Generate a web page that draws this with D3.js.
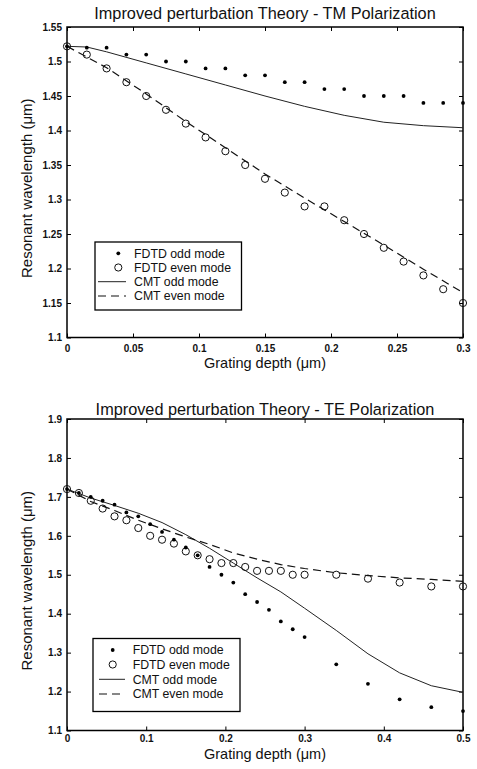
<!DOCTYPE html>
<html><head><meta charset="utf-8">
<script src="https://cdn.jsdelivr.net/npm/d3@7"></script>
<style>
body{margin:0;background:#fff}
text{font-family:"Liberation Sans",Arial,Helvetica,sans-serif;fill:#111}
</style>
</head><body>
<svg id="c" width="477" height="769"></svg>
<script>
// ---------- TM polarization (top) ----------
const tmTitle = "Improved perturbation Theory - TM Polarization";
const tmFdtdX = [0,0.015,0.03,0.045,0.06,0.075,0.09,0.105,0.12,0.135,0.15,0.165,0.18,0.195,0.21,0.225,0.24,0.255,0.27,0.285,0.3];
const tmFdtdOdd = [1.522,1.52,1.52,1.51,1.51,1.50,1.50,1.49,1.49,1.48,1.48,1.47,1.47,1.46,1.46,1.45,1.45,1.45,1.44,1.44,1.44];
const tmFdtdEven = [1.522,1.51,1.49,1.47,1.45,1.43,1.41,1.39,1.37,1.35,1.33,1.31,1.29,1.29,1.27,1.25,1.23,1.21,1.19,1.17,1.15];
const tmCmtOddX = [0,0.015,0.03,0.06,0.09,0.12,0.15,0.18,0.21,0.24,0.27,0.3];
const tmCmtOdd = [1.522,1.521,1.514,1.498,1.482,1.466,1.450,1.435,1.422,1.412,1.407,1.404];
const tmCmtEvenX = [0,0.03,0.06,0.09,0.12,0.15,0.18,0.21,0.24,0.27,0.3];
const tmCmtEven = [1.522,1.491,1.453,1.413,1.375,1.337,1.302,1.268,1.234,1.199,1.165];
const tmXTicks = [0,0.05,0.1,0.15,0.2,0.25,0.3];
const tmYTicks = [1.1,1.15,1.2,1.25,1.3,1.35,1.4,1.45,1.5,1.55];

// ---------- TE polarization (bottom) ----------
const teTitle = "Improved perturbation Theory - TE Polarization";
const teFdtdX = [0,0.015,0.03,0.045,0.06,0.075,0.09,0.105,0.12,0.135,0.15,0.165,0.18,0.195,0.21,0.225,0.24,0.255,0.27,0.285,0.3,0.34,0.38,0.42,0.46,0.5];
const teFdtdOdd = [1.72,1.71,1.70,1.69,1.68,1.66,1.65,1.63,1.61,1.59,1.57,1.55,1.52,1.50,1.48,1.45,1.43,1.41,1.38,1.36,1.34,1.27,1.22,1.18,1.16,1.15];
const teFdtdEven = [1.72,1.71,1.69,1.67,1.65,1.64,1.62,1.60,1.59,1.58,1.56,1.55,1.54,1.53,1.53,1.52,1.51,1.51,1.51,1.50,1.50,1.50,1.49,1.48,1.47,1.47];
const teCmtX = [0,0.03,0.06,0.09,0.12,0.15,0.18,0.21,0.24,0.27,0.3,0.34,0.38,0.42,0.46,0.5];
const teCmtOdd = [1.72,1.697,1.678,1.658,1.634,1.603,1.568,1.530,1.492,1.456,1.414,1.357,1.297,1.248,1.215,1.198];
const teCmtEven = [1.72,1.688,1.665,1.640,1.618,1.597,1.578,1.556,1.540,1.526,1.516,1.505,1.498,1.492,1.488,1.483];
const teXTicks = [0,0.1,0.2,0.3,0.4,0.5];
const teYTicks = [1.1,1.2,1.3,1.4,1.5,1.6,1.7,1.8,1.9];

const legendLabels = ["FDTD odd mode","FDTD even mode","CMT odd mode","CMT even mode"];
const xLabel = "Grating depth (\u03bcm)";
const yLabel = "Resonant wavelength (\u03bcm)";

const svg = d3.select("#c");
const fmt = d => String(+d.toFixed(2));

function panel(o){
  const g = svg.append("g");
  const x = d3.scaleLinear().domain(o.xDomain).range([o.left, o.right]);
  const y = d3.scaleLinear().domain(o.yDomain).range([o.bottom, o.top]);

  const ax = (sel) => { sel.select(".domain").remove(); sel.selectAll("line").attr("stroke","#000").attr("stroke-width",1); };
  const tickText = s => s.selectAll("text").attr("font-size",10).attr("font-weight","bold").attr("font-family","Liberation Sans, Arial, sans-serif").attr("fill","#111");

  g.append("g").attr("transform",`translate(0,${o.bottom})`)
    .call(d3.axisBottom(x).tickValues(o.xTicks).tickFormat(fmt).tickSize(-4).tickSizeOuter(0).tickPadding(o.xPad))
    .call(ax).call(tickText);
  g.append("g").attr("transform",`translate(0,${o.top})`)
    .call(d3.axisTop(x).tickValues(o.xTicks).tickFormat("").tickSize(-4).tickSizeOuter(0)).call(ax);
  g.append("g").attr("transform",`translate(${o.left},0)`)
    .call(d3.axisLeft(y).tickValues(o.yTicks).tickFormat(fmt).tickSize(-4).tickSizeOuter(0).tickPadding(5))
    .call(ax).call(tickText);
  g.append("g").attr("transform",`translate(${o.right},0)`)
    .call(d3.axisRight(y).tickValues(o.yTicks).tickFormat("").tickSize(-4).tickSizeOuter(0)).call(ax);

  g.append("rect").attr("x",o.left).attr("y",o.top).attr("width",o.right-o.left).attr("height",o.bottom-o.top)
    .attr("fill","none").attr("stroke","#000").attr("stroke-width",1.5);

  // title and labels
  g.append("text").attr("x",(o.left+o.right)/2).attr("y",o.titleY).attr("text-anchor","middle")
    .attr("font-size",16.3).text(o.title);
  g.append("text").attr("x",(o.left+o.right)/2).attr("y",o.xLabelY).attr("text-anchor","middle")
    .attr("font-size",14.5).text(xLabel);
  g.append("text").attr("transform",`translate(${o.yLabelX},${(o.top+o.bottom)/2+6}) rotate(-90)`)
    .attr("text-anchor","middle").attr("font-size",15).text(yLabel);

  const line = d3.line().x(d=>x(d[0])).y(d=>y(d[1]));
  g.append("path").datum(d3.zip(o.cmtOddX,o.cmtOdd)).attr("d",line)
    .attr("fill","none").attr("stroke","#222").attr("stroke-width",1);
  g.append("path").datum(d3.zip(o.cmtEvenX,o.cmtEven)).attr("d",line)
    .attr("fill","none").attr("stroke","#111").attr("stroke-width",1.2).attr("stroke-dasharray","8,5");

  g.append("g").selectAll("circle").data(d3.zip(o.fdtdX,o.fdtdEven)).join("circle")
    .attr("cx",d=>x(d[0])).attr("cy",d=>y(d[1])).attr("r",3.6)
    .attr("fill","none").attr("stroke","#111").attr("stroke-width",1);
  g.append("g").selectAll("circle").data(d3.zip(o.fdtdX,o.fdtdOdd)).join("circle")
    .attr("cx",d=>x(d[0])).attr("cy",d=>y(d[1])).attr("r",1.9).attr("fill","#000");

  // legend
  const L = o.legend;
  const lg = g.append("g");
  lg.append("rect").attr("x",L.x0).attr("y",L.y0).attr("width",L.x1-L.x0).attr("height",L.y1-L.y0)
    .attr("fill","#fff").attr("stroke","#000").attr("stroke-width",1.3);
  legendLabels.forEach((t,i)=>{
    const cy = L.rows[i];
    if(i===0) lg.append("circle").attr("cx",L.sym).attr("cy",cy).attr("r",1.9).attr("fill","#000");
    if(i===1) lg.append("circle").attr("cx",L.sym).attr("cy",cy).attr("r",3.6).attr("fill","none").attr("stroke","#111");
    if(i===2) lg.append("line").attr("x1",L.l0).attr("x2",L.l1).attr("y1",cy).attr("y2",cy).attr("stroke","#222").attr("stroke-width",1);
    if(i===3) lg.append("line").attr("x1",L.l0).attr("x2",L.l1).attr("y1",cy).attr("y2",cy).attr("stroke","#111").attr("stroke-width",1.2).attr("stroke-dasharray","8,5");
    lg.append("text").attr("x",L.tx).attr("y",cy+4.3).attr("font-size",12.3).text(t);
  });
}

panel({
  title: tmTitle, titleY: 19, xLabelY: 368, yLabelX: 32, xPad: 7.2,
  left: 67, right: 463, top: 27, bottom: 337.5,
  xDomain: [0,0.3], yDomain: [1.1,1.55], xTicks: tmXTicks, yTicks: tmYTicks,
  fdtdX: tmFdtdX, fdtdOdd: tmFdtdOdd, fdtdEven: tmFdtdEven,
  cmtOddX: tmCmtOddX, cmtOdd: tmCmtOdd, cmtEvenX: tmCmtEvenX, cmtEven: tmCmtEven,
  legend: {x0:95, x1:241.5, y0:242, y1:310, rows:[253.3,267.5,281.7,296], sym:118.3, l0:98, l1:126, tx:134}
});
panel({
  title: teTitle, titleY: 415, xLabelY: 758.5, yLabelX: 32, xPad: 4.6,
  left: 67, right: 463, top: 419, bottom: 730.5,
  xDomain: [0,0.5], yDomain: [1.1,1.9], xTicks: teXTicks, yTicks: teYTicks,
  fdtdX: teFdtdX, fdtdOdd: teFdtdOdd, fdtdEven: teFdtdEven,
  cmtOddX: teCmtX, cmtOdd: teCmtOdd, cmtEvenX: teCmtX, cmtEven: teCmtEven,
  legend: {x0:93, x1:240, y0:638.5, y1:711.5, rows:[650,664.5,679.3,694], sym:112.7, l0:99, l1:125, tx:132.7}
});
</script>
</body></html>
